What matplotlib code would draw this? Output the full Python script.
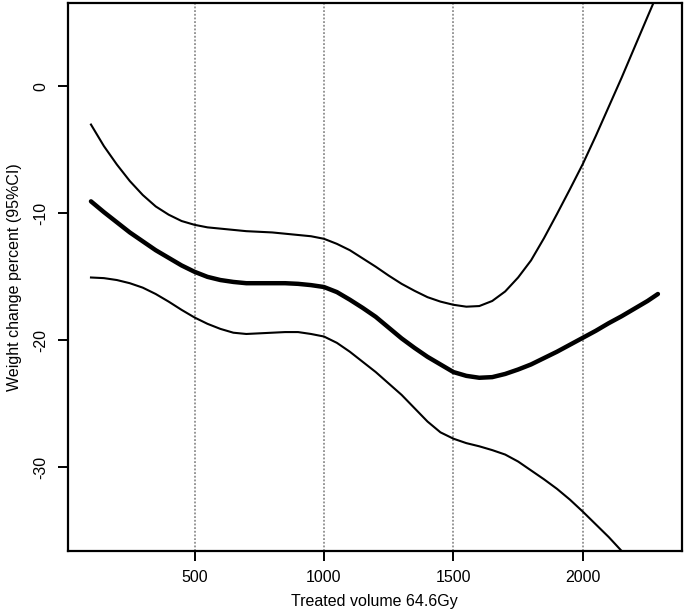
import numpy as np
import matplotlib
matplotlib.use("Agg")
import matplotlib.pyplot as plt

plt.rcParams['font.family'] = ['Liberation Sans', 'DejaVu Sans']
plt.rcParams['axes.unicode_minus'] = False

# values
volume = [100, 150, 200, 250, 300, 350, 400, 450, 500, 550, 600, 650, 700, 750, 800, 850,
          900, 950, 1000, 1050, 1100, 1150, 1200, 1250, 1300, 1350, 1400, 1450, 1500, 1550,
          1600, 1650, 1700, 1750, 1800, 1850, 1900, 1950, 2000, 2050, 2100, 2150, 2200, 2250, 2290]
estimate = [-9.05, -9.9, -10.7, -11.5, -12.2, -12.9, -13.5, -14.1, -14.6, -15.0, -15.25, -15.4,
            -15.5, -15.5, -15.5, -15.5, -15.55, -15.65, -15.8, -16.2, -16.8, -17.45, -18.15,
            -19.0, -19.85, -20.6, -21.3, -21.9, -22.5, -22.8, -22.95, -22.9, -22.65, -22.3,
            -21.9, -21.4, -20.9, -20.35, -19.8, -19.25, -18.65, -18.1, -17.5, -16.9, -16.35]
upper_ci = [-3.0, -4.7, -6.15, -7.45, -8.55, -9.45, -10.1, -10.6, -10.9, -11.1, -11.2, -11.3,
            -11.4, -11.45, -11.5, -11.6, -11.7, -11.8, -12.0, -12.4, -12.9, -13.55, -14.2,
            -14.9, -15.55, -16.1, -16.6, -16.95, -17.2, -17.35, -17.3, -16.9, -16.15, -15.05,
            -13.7, -11.95, -10.05, -8.1, -6.1, -3.9, -1.6, 0.7, 3.1, 5.5, 7.4]
lower_ci = [-15.05, -15.1, -15.25, -15.5, -15.85, -16.35, -16.95, -17.6, -18.2, -18.7, -19.1,
            -19.4, -19.5, -19.45, -19.4, -19.35, -19.35, -19.5, -19.7, -20.2, -20.9, -21.7,
            -22.5, -23.4, -24.3, -25.35, -26.4, -27.25, -27.75, -28.1, -28.35, -28.65, -29.0,
            -29.55, -30.25, -30.95, -31.7, -32.55, -33.5, -34.5, -35.5, -36.6, -37.7, -38.8, -39.7]
grid_at = [500, 1000, 1500, 2000]
yticks = [0, -10, -20, -30]

fig = plt.figure(figsize=(6.85, 6.16), dpi=100)
ax = fig.add_axes([0.0988, 0.1055, 0.8968, 0.8901])

for g in grid_at:
    ax.axvline(g, color='#7a7a7a', linestyle=(0, (1.2, 1.2)), linewidth=1.1, zorder=1)

ax.plot(volume, upper_ci, color='black', linewidth=1.5, zorder=3)
ax.plot(volume, lower_ci, color='black', linewidth=1.5, zorder=3)
ax.plot(volume, estimate, color='black', linewidth=3.2, solid_capstyle='round', zorder=4)

ax.set_xlim(10, 2383)
ax.set_ylim(-36.6, 6.6)
ax.set_xticks(grid_at)
ax.set_yticks(yticks)

for side in ax.spines.values():
    side.set_linewidth(1.6)

ax.tick_params(axis='both', length=7, width=1.4, labelsize=11.5, pad=7)
ax.tick_params(axis='y', labelrotation=90)
for lbl in ax.get_yticklabels():
    lbl.set_va('center')

ax.set_xlabel('Treated volume 64.6Gy', fontsize=11.5, labelpad=6)
ax.set_ylabel('Weight change percent (95%CI)', fontsize=11.5, labelpad=8)

fig.savefig('out.png', dpi=100)
